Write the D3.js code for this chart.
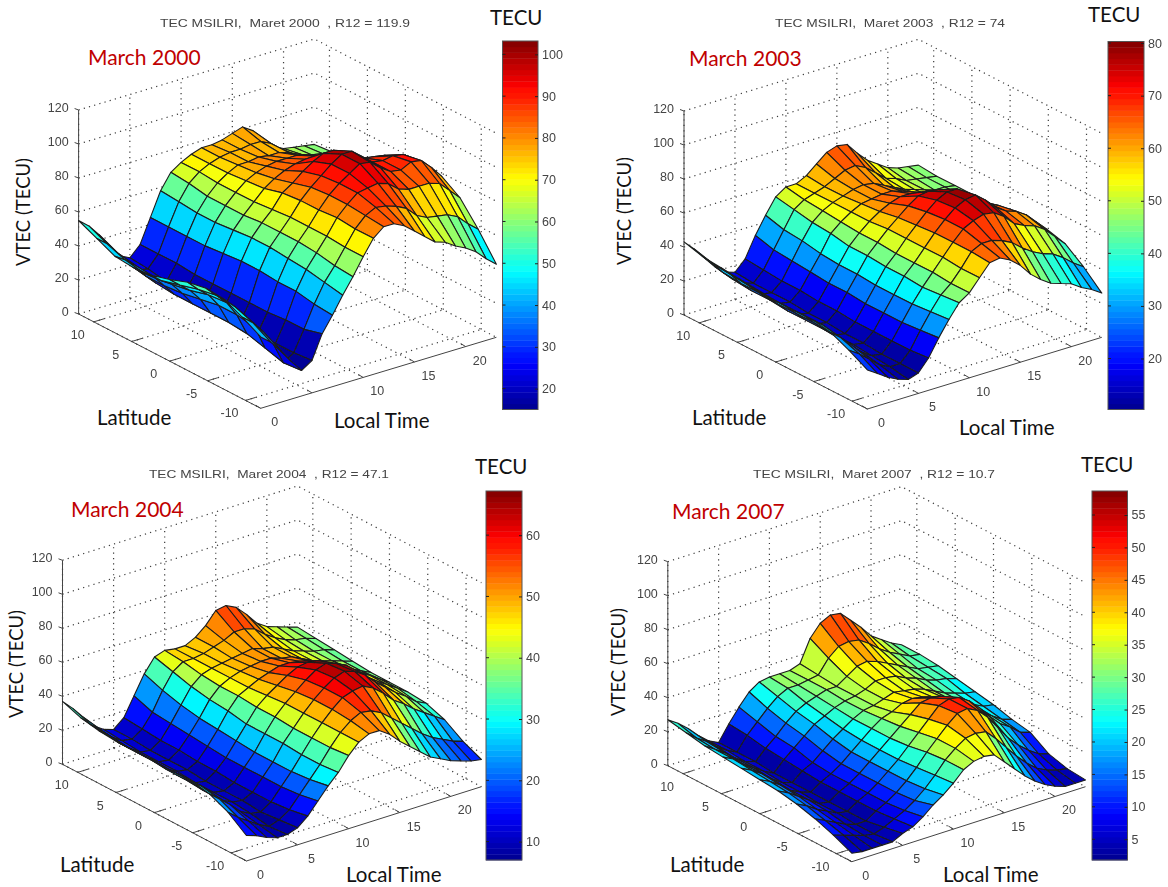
<!DOCTYPE html>
<html>
<head>
<meta charset="utf-8">
<script src="https://cdn.jsdelivr.net/npm/d3@7"></script>
<style>
  html, body { margin: 0; padding: 0; background: #fff; }
</style>
</head>
<body>
<div id="chart"></div>
<script>
const lats = [12, 9.6, 7.2, 4.8, 2.4, 0, -2.4, -4.8, -7.2, -9.6, -12];
const localTimes = [0, 1, 2, 3, 4, 5, 6, 7, 8, 9, 10, 11, 12, 13, 14, 15, 16, 17, 18, 19, 20, 21, 22, 23];
const vtecTicks = [0, 20, 40, 60, 80, 100, 120];
const latTicks = [10, 5, 0, -5, -10];
const ltGridTicks = [0, 5, 10, 15, 20];

// one row per local time, columns follow lats
const tec2000 = [
  [55,50,45,44,45,48,52,54,53,48,42],
  [50,45,41,39,40,43,46,48,47,43,37],
  [43,38,36,35,36,38,41,42,40,36,30],
  [34,30,28,28,29,31,33,33,31,27,22],
  [27,24,22,21,21,21,21,20,17,14,15],
  [24,23,21,20,19,18,18,18,18,18,19],
  [30,30,30,29,29,29,29,29,30,30,33],
  [44,44,44,44,45,46,46,45,45,43,42],
  [58,57,56,56,57,58,58,57,56,54,52],
  [67,66,64,64,64,65,65,65,64,62,61],
  [71,71,70,70,70,71,72,72,72,71,71],
  [74,74,74,75,76,79,80,80,81,80,80],
  [76,76,77,78,80,83,86,87,87,86,85],
  [76,77,77,80,83,88,91,92,92,89,85],
  [77,77,78,81,85,92,96,96,93,88,82],
  [79,78,77,81,86,95,100,100,94,86,77],
  [81,78,77,81,86,95,100,99,92,83,72],
  [77,75,75,79,84,92,95,94,87,77,67],
  [70,70,71,75,81,87,90,90,85,74,65],
  [64,65,67,72,78,85,89,89,85,73,61],
  [61,63,65,70,76,84,90,92,85,72,58],
  [60,61,64,68,74,83,89,91,83,69,54],
  [59,60,62,66,72,80,85,85,77,63,48],
  [58,59,60,63,67,74,78,78,71,58,43]
];
const tec2003 = [
  [43,40,39,38,37,36,36,36,34,29,23],
  [37,34,33,32,31,31,31,31,29,25,19],
  [30,27,26,26,25,25,25,24,23,20,15],
  [23,21,20,20,19,19,19,18,17,15,12],
  [18,17,16,16,15,15,14,14,13,12,10],
  [16,15,15,15,14,14,13,13,12,12,12],
  [22,21,20,20,19,19,18,18,18,18,19],
  [34,31,30,29,28,28,27,27,27,28,29],
  [44,41,40,38,37,37,36,36,36,37,38],
  [53,51,49,48,46,46,45,45,44,45,46],
  [57,55,54,53,52,52,51,51,51,50,50],
  [57,57,57,57,57,58,58,58,58,57,57],
  [60,59,59,60,61,63,64,65,65,65,64],
  [65,62,61,61,64,68,70,71,71,68,65],
  [70,65,62,62,66,72,75,76,74,68,62],
  [72,66,61,62,66,73,78,79,76,66,57],
  [71,63,58,60,65,72,78,80,75,63,50],
  [64,58,55,57,62,69,74,75,71,58,45],
  [58,53,52,54,59,65,68,69,65,54,41],
  [54,51,50,51,55,61,64,65,62,51,39],
  [50,48,48,49,52,58,61,63,60,49,37],
  [48,47,46,47,50,54,57,59,56,45,33],
  [47,46,46,46,48,50,52,53,50,40,30],
  [46,45,45,45,45,46,47,47,44,36,26]
];
const tec2004 = [
  [37,33,31,30,30,30,30,30,28,23,15],
  [31,27,26,25,25,25,25,25,23,18,13],
  [24,22,20,20,20,19,19,19,18,14,10],
  [17,16,15,15,14,14,13,13,12,10,8],
  [13,12,11,11,11,10,10,10,9,7,8],
  [11,11,10,10,10,9,9,9,8,9,10],
  [16,15,14,14,13,13,12,12,12,13,15],
  [27,23,22,21,20,19,19,19,19,20,22],
  [38,34,31,29,28,27,26,26,26,27,29],
  [46,43,40,38,37,35,35,35,34,34,35],
  [48,47,45,44,44,43,43,42,42,42,43],
  [47,47,47,47,47,48,49,49,49,49,49],
  [47,48,48,49,50,52,54,55,55,54,52],
  [50,50,49,50,52,56,59,60,60,57,52],
  [55,52,50,51,54,59,63,64,62,56,48],
  [62,55,51,51,54,60,65,66,63,53,42],
  [63,55,49,49,53,59,63,64,60,48,37],
  [60,53,48,48,51,56,60,60,55,43,32],
  [54,48,45,45,48,52,54,54,49,38,27],
  [47,44,42,42,45,47,49,49,45,33,24],
  [43,41,40,40,42,44,45,44,40,29,21],
  [41,39,38,38,39,41,41,40,36,26,19],
  [39,38,37,36,36,37,37,35,32,23,17],
  [37,36,35,34,33,33,33,32,28,21,16]
];
const tec2007 = [
  [27,25,23,22,21,20,19,17,14,10,5],
  [23,20,19,19,18,17,16,14,11,8,4],
  [18,16,15,14,14,13,12,10,8,6,4],
  [12,11,10,10,9,8,8,7,5,4,4],
  [7,7,6,6,5,5,4,4,3,3,4],
  [4,4,4,3,3,3,3,3,3,5,7],
  [13,12,10,9,8,7,7,7,7,8,9],
  [21,18,15,14,11,10,10,10,10,11,13],
  [28,24,21,19,16,14,14,14,14,15,18],
  [32,29,26,24,21,19,19,19,19,20,22],
  [33,32,29,27,25,24,24,24,25,26,27],
  [33,32,31,30,29,29,29,30,32,33,33],
  [33,33,33,32,32,33,34,36,38,38,36],
  [35,34,33,33,33,35,39,42,44,42,37],
  [48,42,37,35,35,38,44,48,49,43,36],
  [55,47,41,38,37,39,45,50,50,42,30],
  [58,48,42,38,36,38,44,49,47,36,24],
  [57,47,40,37,35,36,41,45,41,29,18],
  [51,43,37,34,33,34,37,39,33,22,13],
  [45,38,34,32,30,30,31,32,25,16,9],
  [38,34,31,29,27,27,27,26,19,11,6],
  [34,31,28,27,25,24,23,22,14,8,4],
  [30,28,27,26,23,21,19,17,10,6,4],
  [27,27,26,24,22,20,17,15,8,5,4]
];

const width = 1168;
const height = 887;

const panels = [
  { values: tec2000, range: [15, 103.2], barTicks: [20,30,40,50,60,70,80,90,100], ltLabels: [0,10,15,20],
    year: 'March 2000', yearAt: [88, 65], title: 'TEC MSILRI,  Maret 2000  , R12 = 119.9', titleAt: [160, 410, 27],
    A: [78.6, 314], B: [260.7, 408.3], C: [496.4, 337.3], bar: [502.5, 538, 41, 409.5],
    tecu: [490, 25], lat: [97, 425], lt: [334, 428], vtec: [30, 212] },
  { values: tec2003, range: [10.3, 80.3], barTicks: [20,30,40,50,60,70,80], ltLabels: [0,5,10,15,20],
    year: 'March 2003', yearAt: [689, 66], title: 'TEC MSILRI,  Maret 2003  , R12 = 74', titleAt: [775, 1005, 27],
    A: [684, 315], B: [867.4, 409], C: [1101.8, 337.3], bar: [1108, 1144, 41.5, 409.5],
    tecu: [1088, 22], lat: [692, 425], lt: [959, 435], vtec: [631, 211] },
  { values: tec2004, range: [7, 67.2], barTicks: [10,20,30,40,50,60], ltLabels: [0,5,10,15,20],
    year: 'March 2004', yearAt: [71, 517], title: 'TEC MSILRI,  Maret 2004  , R12 = 47.1', titleAt: [149, 389, 478],
    A: [62.5, 764.3], B: [246.4, 861], C: [481.4, 786.7], bar: [486, 522, 491, 860],
    tecu: [475, 474], lat: [60, 872], lt: [346, 882], vtec: [23, 664] },
  { values: tec2007, range: [1.8, 58.7], barTicks: [5,10,15,20,25,30,35,40,45,50,55], ltLabels: [0,5,10,15,20],
    year: 'March 2007', yearAt: [672, 519], title: 'TEC MSILRI,  Maret 2007  , R12 = 10.7', titleAt: [753, 995, 478],
    A: [667.8, 765.7], B: [851.8, 861.7], C: [1085.5, 786.7], bar: [1092, 1127.5, 491, 860],
    tecu: [1081, 472], lat: [670, 872], lt: [943, 882], vtec: [625, 662] }
];

const svg = d3.select('#chart').append('svg')
  .attr('width', width)
  .attr('height', height)
  .style('display', 'block');

svg.append('rect').attr('width', width).attr('height', height).attr('fill', '#fff');

svg.append('defs').append('filter')
  .attr('id', 'soft')
  .attr('x', 0).attr('y', 0)
  .attr('width', width).attr('height', height)
  .attr('filterUnits', 'userSpaceOnUse')
  .append('feGaussianBlur')
  .attr('stdDeviation', 0.55);

// matlab jet with 64 steps
const jet = d3.scaleLinear()
  .domain([0, 0.125, 0.375, 0.625, 0.875, 1])
  .range(['#00008f', '#0000ff', '#00ffff', '#ffff00', '#ff0000', '#800000'])
  .clamp(true);
const jetSteps = d3.range(64).map(i => jet((i + 0.5) / 64));

const sansFont = '"Liberation Sans", Arial, sans-serif';
const labelFont = 'Lato, "Open Sans", sans-serif';

panels.forEach(p => {
  // the latitude axis runs past its ticks, to +-12
  const latFrac = d3.scaleLinear().domain([12, -12]).range([0, 1]);
  const ltFrac = d3.scaleLinear().domain([0, 23]).range([0, 1]);
  const vtecHeight = d3.scaleLinear().domain([0, 120]).range([0, 204]);
  const project = (lat, lt, z) => [
    p.A[0] + (p.B[0] - p.A[0]) * latFrac(lat) + (p.C[0] - p.B[0]) * ltFrac(lt),
    p.A[1] + (p.B[1] - p.A[1]) * latFrac(lat) + (p.C[1] - p.B[1]) * ltFrac(lt) - vtecHeight(z)
  ];
  const line = d3.line();
  const colorOf = d3.scaleQuantize().domain(p.range).range(jetSteps);

  const g = svg.append('g').attr('filter', 'url(#soft)');

  // grid on the floor and the two back walls
  const gridLines = [];
  latTicks.forEach(lat => {
    gridLines.push([project(lat, 0, 0), project(lat, 23, 0)]);
    gridLines.push([project(lat, 23, 0), project(lat, 23, 120)]);
  });
  ltGridTicks.forEach(lt => {
    gridLines.push([project(12, lt, 0), project(-12, lt, 0)]);
    gridLines.push([project(12, lt, 0), project(12, lt, 120)]);
  });
  vtecTicks.forEach(z => {
    gridLines.push([project(12, 0, z), project(12, 23, z), project(-12, 23, z)]);
  });
  g.append('g').selectAll('path').data(gridLines).join('path')
    .attr('d', line)
    .attr('fill', 'none')
    .attr('stroke', '#3a3a3a')
    .attr('stroke-width', 1.2)
    .attr('stroke-dasharray', '1.2 4.2');

  // solid axes
  const axisLines = [
    [project(12, 0, 0), project(12, 0, 120)],
    [project(12, 0, 0), project(-12, 0, 0)],
    [project(-12, 0, 0), project(-12, 23, 0)]
  ];
  vtecTicks.forEach(z => {
    const q = project(12, 0, z);
    axisLines.push([q, [q[0] - 4, q[1] - 1.5]]);
  });
  latTicks.forEach(lat => axisLines.push([project(lat, 0, 0), project(lat, 1, 0)]));
  ltGridTicks.forEach(lt => {
    const q = project(-12, lt, 0);
    axisLines.push([q, [q[0] - 5, q[1] - 3]]);
  });
  g.append('g').selectAll('path').data(axisLines).join('path')
    .attr('d', line)
    .attr('fill', 'none')
    .attr('stroke', '#444')
    .attr('stroke-width', 1);

  // far cells first so that the near ones hide them
  const faces = [];
  for (let i = localTimes.length - 2; i >= 0; i--) {
    for (let j = 0; j < lats.length - 1; j++) {
      faces.push({
        corners: [
          project(lats[j], localTimes[i], p.values[i][j]),
          project(lats[j + 1], localTimes[i], p.values[i][j + 1]),
          project(lats[j + 1], localTimes[i + 1], p.values[i + 1][j + 1]),
          project(lats[j], localTimes[i + 1], p.values[i + 1][j])
        ],
        value: p.values[i][j + 1]
      });
    }
  }
  g.append('g').selectAll('path').data(faces).join('path')
    .attr('d', d => line(d.corners) + 'Z')
    .attr('fill', d => colorOf(d.value))
    .attr('stroke', '#1c1c1c')
    .attr('stroke-width', 1.1)
    .attr('stroke-linejoin', 'round');

  // tick labels
  const tickLabel = (x, y, text, anchor) => g.append('text')
    .attr('x', x)
    .attr('y', y)
    .attr('text-anchor', anchor || 'middle')
    .attr('dominant-baseline', 'central')
    .attr('font-family', sansFont)
    .attr('font-size', 12.5)
    .attr('fill', '#444')
    .text(text);

  vtecTicks.forEach(z => {
    const q = project(12, 0, z);
    tickLabel(q[0] - 10, q[1] - 2, z, 'end');
  });
  latTicks.forEach(lat => {
    const q = project(lat, 0, 0);
    tickLabel(q[0] - 16, q[1] + 13, lat);
  });
  p.ltLabels.forEach(lt => {
    const q = project(-12, lt, 0);
    tickLabel(q[0] + 14, q[1] + 14, lt);
  });

  g.append('text')
    .attr('x', p.titleAt[0])
    .attr('y', p.titleAt[2])
    .attr('textLength', p.titleAt[1] - p.titleAt[0])
    .attr('lengthAdjust', 'spacingAndGlyphs')
    .attr('font-family', sansFont)
    .attr('font-size', 11.5)
    .attr('fill', '#444')
    .attr('xml:space', 'preserve')
    .text(p.title);

  // colorbar
  const barScale = d3.scaleLinear().domain(p.range).range([p.bar[3], p.bar[2]]);
  const barG = svg.append('g').attr('filter', 'url(#soft)');
  const barW = p.bar[1] - p.bar[0];
  const stepH = (p.bar[3] - p.bar[2]) / 64;
  barG.selectAll('rect.step').data(jetSteps).join('rect')
    .attr('class', 'step')
    .attr('x', p.bar[0])
    .attr('y', (d, i) => p.bar[3] - (i + 1) * stepH)
    .attr('width', barW)
    .attr('height', stepH + 0.4)
    .attr('fill', d => d);
  barG.append('rect')
    .attr('x', p.bar[0])
    .attr('y', p.bar[2])
    .attr('width', barW)
    .attr('height', p.bar[3] - p.bar[2])
    .attr('fill', 'none')
    .attr('stroke', '#555')
    .attr('stroke-width', 1);
  const barAxis = barG.append('g')
    .attr('transform', `translate(${p.bar[1]},0)`)
    .call(d3.axisRight(barScale).tickValues(p.barTicks).tickSize(-3).tickPadding(4));
  barAxis.select('.domain').remove();
  barAxis.selectAll('line').attr('stroke', '#222');
  barAxis.selectAll('text')
    .attr('font-family', sansFont)
    .attr('font-size', 12.5)
    .attr('fill', '#444');
  barG.selectAll('line.leftTick').data(p.barTicks).join('line')
    .attr('class', 'leftTick')
    .attr('x1', p.bar[0])
    .attr('x2', p.bar[0] + 3)
    .attr('y1', d => barScale(d))
    .attr('y2', d => barScale(d))
    .attr('stroke', '#222');

  // labels added on top of the matlab figure
  const overlay = (x, y, text, size, color) => svg.append('text')
    .attr('x', x)
    .attr('y', y)
    .attr('font-family', labelFont)
    .attr('font-size', size)
    .attr('fill', color)
    .text(text);

  overlay(p.yearAt[0], p.yearAt[1], p.year, 21, '#c00000');
  overlay(p.tecu[0], p.tecu[1], 'TECU', 20.5, '#111');
  overlay(p.lat[0], p.lat[1], 'Latitude', 20.5, '#111');
  overlay(p.lt[0], p.lt[1], 'Local Time', 20.5, '#111');
  svg.append('text')
    .attr('transform', `translate(${p.vtec[0]},${p.vtec[1]}) rotate(-90)`)
    .attr('text-anchor', 'middle')
    .attr('font-family', labelFont)
    .attr('font-size', 18.5)
    .attr('fill', '#111')
    .text('VTEC (TECU)');
});
</script>
</body>
</html>
